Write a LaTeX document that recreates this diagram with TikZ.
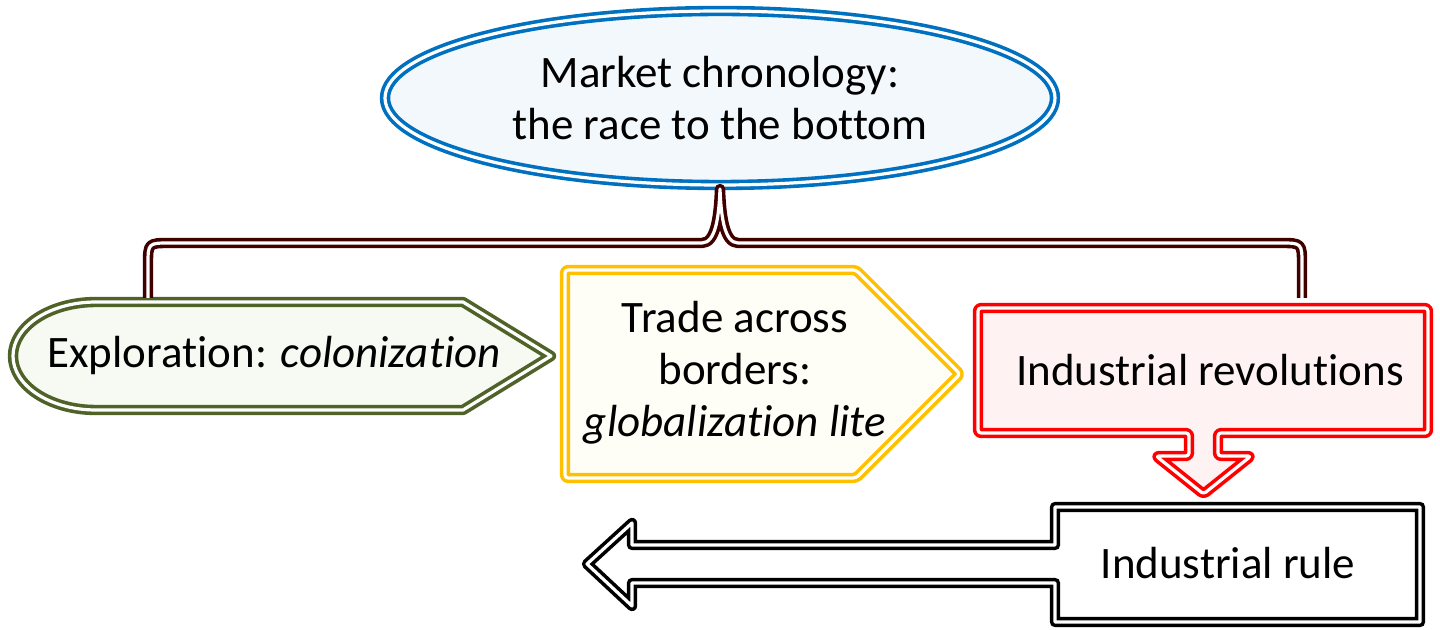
\documentclass[tikz,border=0pt]{standalone}
\usepackage{fontspec}
\setmainfont{Carlito}[Ligatures = NoCommon]
\usetikzlibrary{shapes.geometric, shadows}

\definecolor{titleblue}{HTML}{0070C0}
\definecolor{titlefill}{HTML}{F3F8FC}
\definecolor{exploregreen}{HTML}{4F6228}
\definecolor{explorefill}{HTML}{F7F9F3}
\definecolor{tradeyellow}{HTML}{FFC000}
\definecolor{tradefill}{HTML}{FFFEF6}
\definecolor{revolred}{HTML}{FF0000}
\definecolor{revolfill}{HTML}{FFF2F2}
\definecolor{bracered}{HTML}{400000}

\tikzset{
  dbl/.style = {double = white, line width = 1.8pt, double distance = 1.6pt},
  txt/.style = {font = \fontsize{22.5}{26}\selectfont, align = center, inner sep = 0pt},
  softshadow/.style = {drop shadow = {shadow xshift = 2pt, shadow yshift = -2pt,
    opacity = 0.08, fill = black}}
}

\begin{document}
\begin{tikzpicture}[x = 0.5pt, y = -0.5pt, line join = round]
  \useasboundingbox (0, 0) rectangle (1440, 630);

  \node[ellipse, dbl, draw = titleblue, fill = titlefill, softshadow, outer sep = 0pt,
    minimum width = 335pt, minimum height = 87pt, txt] (title) at (720, 98)
    {Market chronology:\\the race to the bottom};

  % exploration
  \draw[dbl, draw = exploregreen, fill = explorefill, softshadow]
    (96, 302) -- (463, 302) -- (551, 356) -- (463, 410) -- (96, 410)
    arc[start angle = 90, end angle = 270, x radius = 83, y radius = 54] -- cycle;
  \node[txt] (explo) at (274, 356) {Exploration: \textit{colonization}};

  % trade
  \draw[dbl, draw = tradeyellow, fill = tradefill, softshadow, rounded corners = 1.5pt]
    (565, 270) -- (856, 270) -- (960, 374) -- (856, 478) -- (565, 478) -- cycle;
  \node[txt] (trade) at (735, 373) {Trade across\\borders:\\\textit{globalization lite}};

  % revolutions, pointing down
  \draw[dbl, draw = revolred, fill = revolfill, softshadow, rounded corners = 1.5pt]
    (978, 308) -- (1428, 308) -- (1428, 433) -- (1218, 433)
    -- (1218, 456) -- (1251, 456) -- (1203.5, 494) -- (1156, 456) -- (1189, 456)
    -- (1189, 433) -- (978, 433) -- cycle;
  \node[txt] (revol) at (1210, 370) {Industrial revolutions};

  % rule, pointing left
  \draw[dbl, draw = black, fill = white, softshadow]
    (1055, 507) -- (1420, 507) -- (1420, 622) -- (1055, 622)
    -- (1055, 583) -- (632, 583) -- (632, 606) -- (587, 564) -- (632, 523)
    -- (632, 545) -- (1055, 545) -- cycle;
  \node[txt] (rule) at (1228, 563) {Industrial rule};

  % brace
  \coordinate (lleg) at (148, 298);
  \coordinate (rleg) at (1302, 298);
  \draw[dbl, draw = bracered]
    (lleg) -- (148, 265) .. controls (148, 243) .. (170, 243) -- (702, 243)
    .. controls (716, 243) and (719, 215) .. ([yshift = -2pt]title.south)
    .. controls (721, 215) and (724, 243) .. (738, 243) -- (1280, 243)
    .. controls (1302, 243) .. (1302, 265) -- (rleg);
\end{tikzpicture}
\end{document}
